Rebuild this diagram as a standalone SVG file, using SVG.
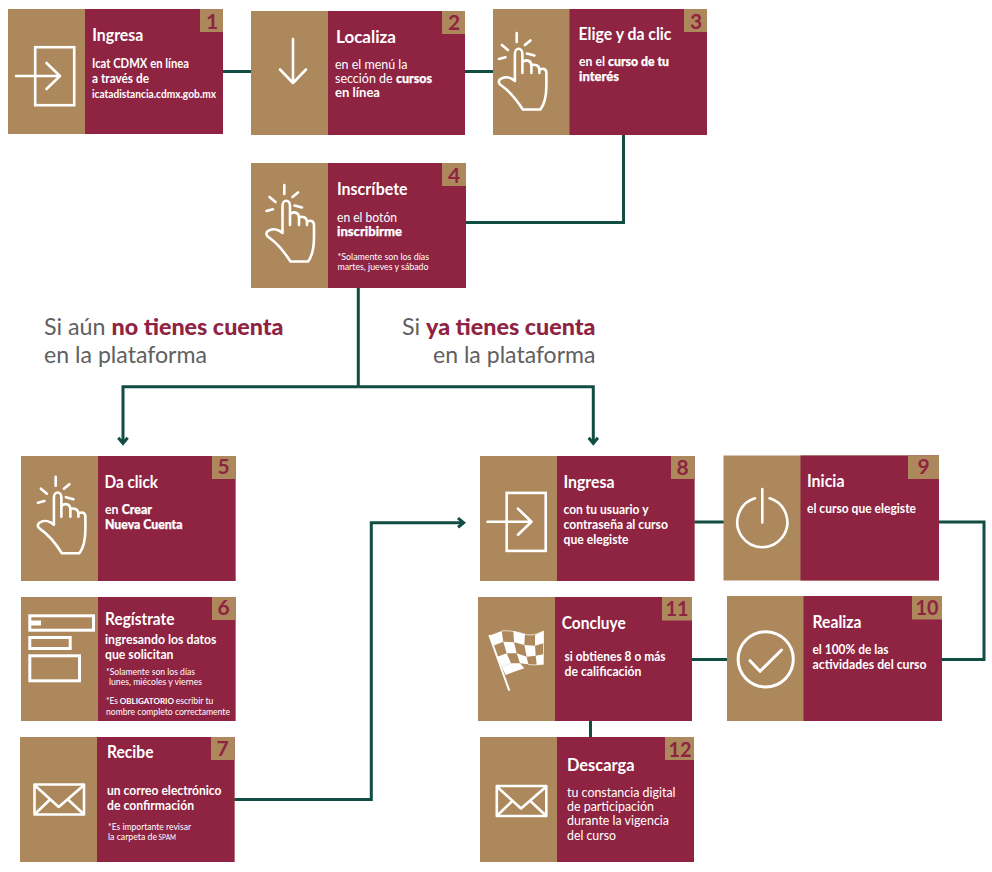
<svg xmlns="http://www.w3.org/2000/svg" xmlns:xlink="http://www.w3.org/1999/xlink" width="992" height="872" viewBox="0 0 992 872">
<style>
text{font-family:Lato,"Noto Sans","Liberation Sans",sans-serif;fill:#fff}
.panel{fill:#8f2342}.tan{fill:#ad885c}
.n{font-size:21px;font-weight:700;fill:#8f2342;text-anchor:middle}
.t{font-size:16.5px;font-weight:700}
.b{font-size:12.5px;font-weight:700}
.r{font-size:12.5px;font-weight:400}
.s{font-size:9px;font-weight:400}
.x{font-size:10.5px;font-weight:700}
.k{font-weight:900;stroke:#fff;stroke-width:.25}
.h{font-size:23px;fill:#606060}
.h .m{fill:#8f2342;font-weight:900}
.i{fill:none;stroke:#fff;stroke-width:2.6;stroke-linecap:round;stroke-linejoin:round}
.m2{stroke-linejoin:miter;stroke-linecap:butt}
.c{fill:none;stroke:#124d44;stroke-width:3}
</style>
<defs>
<marker id="head" markerUnits="userSpaceOnUse" viewBox="-10 -7 14 14" markerWidth="14" markerHeight="14" refX="0" refY="0" orient="auto">
<polygon points="3,0 -4,5.8 -6,3.6 -2,0 -6,-3.6 -4,-5.8" fill="#124d44"/>
</marker>
<g id="enter" class="i">
<rect x="35.2" y="47.2" width="39" height="58" stroke-linecap="butt" stroke-linejoin="miter"/>
<path d="M16 76H60M46.5 63L60 76L46.5 89"/>
</g>
<g id="hand" class="i">
<path d="M29.3 10V19M14.5 22L20.5 27M37.5 22L43 17.5M11.5 36L18 34.3M39.5 30.5L47 32.5"/>
<path d="M35 50V31C35 24 27.5 24 27.5 31V58C24 55 18 52.5 13 56C10.5 58 11 60.5 14 62.5C22 68 30 78 35.5 86.5H53C56.5 82 59 72 59 62V50C59 46 55 44.5 52 47V50M52 47C52 42 47 41 44 42.5V50M44 42.5C44 37 37.5 36 35 39.5"/>
</g>
<g id="mail" class="i">
<rect x="34.5" y="784.5" width="49.5" height="30" stroke-linecap="butt"/>
<path d="M35 785.5L58.7 807L83.5 785.5M35.5 813.5L50 799.5M83 813.5L68 799.5"/>
</g>
</defs>

<g id="connectors">
<path class="c" d="M223 71.5H251"/>
<path class="c" d="M465 71.5H493"/>
<path class="c" d="M623.5 135V222.5H466"/>
<path class="c" d="M358.3 288V386.8"/>
<path class="c" d="M358.3 386.8H123V442.7" marker-end="url(#head)"/>
<path class="c" d="M358.3 386.8H593.3V442.7" marker-end="url(#head)"/>
<path class="c" d="M234 799.5H371.3V522.7H463" marker-end="url(#head)"/>
<path class="c" d="M694 522H724"/>
<path class="c" d="M939 522H984V659.5H942"/>
<path class="c" d="M692 659.5H727"/>
<path class="c" d="M590.5 721V737"/>
</g>

<g id="node-1">
<rect class="tan" x="8" y="9" width="215" height="125"/><rect class="panel" x="85" y="9" width="138" height="125"/><rect class="tan" x="200" y="9" width="23" height="23"/>
<text class="n" x="212" y="29">1</text>
<use href="#enter"/>
<text class="t" x="92.3" y="41" textLength="51" lengthAdjust="spacingAndGlyphs">Ingresa</text>
<text class="b" x="92" y="68" textLength="97" lengthAdjust="spacingAndGlyphs">Icat CDMX en línea</text>
<text class="b" x="92" y="83" textLength="57" lengthAdjust="spacingAndGlyphs">a través de</text>
<text class="x" x="92" y="98" textLength="124" lengthAdjust="spacingAndGlyphs">icatadistancia.cdmx.gob.mx</text>
</g>

<g id="node-2">
<rect class="tan" x="251" y="11" width="214" height="124"/><rect class="panel" x="328" y="11" width="137" height="124"/><rect class="tan" x="442" y="11" width="23" height="23"/>
<text class="n" x="454" y="30">2</text>
<path class="i" d="M293 39V83M280 69.5L293 83L306 69.5"/>
<text class="t" x="336" y="43" textLength="60" lengthAdjust="spacingAndGlyphs">Localiza</text>
<text class="r" x="335" y="69" textLength="72.5" lengthAdjust="spacingAndGlyphs">en el menú la</text>
<text class="r" x="335" y="83" textLength="97" lengthAdjust="spacingAndGlyphs">sección de <tspan class="k">cursos</tspan></text>
<text class="b" x="335" y="97" textLength="45" lengthAdjust="spacingAndGlyphs">en línea</text>
</g>

<g id="node-3">
<rect class="tan" x="493" y="9" width="214" height="126"/><rect class="panel" x="569.5" y="9" width="137.5" height="126"/><rect class="tan" x="684" y="9" width="23" height="23"/>
<text class="n" x="696" y="29">3</text>
<use href="#hand" x="487.4" y="23"/>
<text class="t" x="578.5" y="40" textLength="93" lengthAdjust="spacingAndGlyphs">Elige y da clic</text>
<text class="b" x="579" y="66" textLength="90" lengthAdjust="spacingAndGlyphs">en el <tspan class="k">curso de tu</tspan></text>
<text class="b k" x="579" y="81" textLength="40" lengthAdjust="spacingAndGlyphs">interés</text>
</g>

<g id="node-4">
<rect class="tan" x="251" y="163" width="215" height="125"/><rect class="panel" x="328" y="163" width="138" height="125"/><rect class="tan" x="442" y="163" width="24" height="23"/>
<text class="n" x="454" y="183">4</text>
<use href="#hand" x="255" y="175"/>
<text class="t" x="337" y="195" textLength="70.5" lengthAdjust="spacingAndGlyphs">Inscríbete</text>
<text class="r" x="337" y="222" textLength="60" lengthAdjust="spacingAndGlyphs">en el botón</text>
<text class="b k" x="337" y="236" textLength="65" lengthAdjust="spacingAndGlyphs">inscribirme</text>
<text class="s" x="337.5" y="260" textLength="91.5" lengthAdjust="spacingAndGlyphs">*Solamente son los  días</text>
<text class="s" x="337.5" y="270" textLength="91" lengthAdjust="spacingAndGlyphs">martes,  jueves y sábado</text>
</g>

<g id="branch-labels">
<text class="h" x="44" y="335" textLength="239.5" lengthAdjust="spacingAndGlyphs">Si aún <tspan class="m">no tienes cuenta</tspan></text>
<text class="h" x="44" y="363" textLength="163" lengthAdjust="spacingAndGlyphs">en la plataforma</text>
<text class="h" x="402" y="335" textLength="193.5" lengthAdjust="spacingAndGlyphs">Si <tspan class="m">ya tienes cuenta</tspan></text>
<text class="h" x="433" y="363" textLength="162.5" lengthAdjust="spacingAndGlyphs">en la plataforma</text>
</g>

<g id="node-5">
<rect class="tan" x="21" y="456" width="214.5" height="125"/><rect class="panel" x="98" y="456" width="137.5" height="125"/><rect class="tan" x="212" y="456" width="23.5" height="23"/>
<text class="n" x="223.5" y="474">5</text>
<use href="#hand" x="26.4" y="466.7"/>
<text class="t" x="104.5" y="488" textLength="53.5" lengthAdjust="spacingAndGlyphs">Da click</text>
<text class="b" x="105" y="514" textLength="47" lengthAdjust="spacingAndGlyphs">en <tspan class="k">Crear</tspan></text>
<text class="b k" x="105" y="529" textLength="77.5" lengthAdjust="spacingAndGlyphs">Nueva Cuenta</text>
</g>

<g id="node-6">
<rect class="tan" x="21" y="597" width="214.5" height="124"/><rect class="panel" x="98" y="597" width="137.5" height="124"/><rect class="tan" x="212" y="597" width="23.5" height="23"/>
<text class="n" x="223.5" y="615">6</text>
<g class="i m2" style="stroke-width:3">
<rect x="29.8" y="615.8" width="63.7" height="14.4"/>
<rect x="29.8" y="637.5" width="40.4" height="11"/>
<rect x="29.8" y="655.8" width="49.7" height="25"/>
</g>
<rect x="30" y="620.5" width="11" height="5" fill="#fff"/>
<text class="t" x="105" y="625" textLength="69.5" lengthAdjust="spacingAndGlyphs">Regístrate</text>
<text class="b" x="105" y="644" textLength="111.5" lengthAdjust="spacingAndGlyphs">ingresando los datos</text>
<text class="b" x="105" y="658.5" textLength="68.5" lengthAdjust="spacingAndGlyphs">que solicitan</text>
<text class="s" x="106" y="675" textLength="89" lengthAdjust="spacingAndGlyphs">*Solamente son los días</text>
<text class="s" x="109" y="685" textLength="93" lengthAdjust="spacingAndGlyphs">lunes, miécoles y viernes</text>
<text class="s" x="106" y="704" textLength="12" lengthAdjust="spacingAndGlyphs">*Es</text>
<text class="s" x="119.7" y="704" textLength="54.3" lengthAdjust="spacingAndGlyphs" style="font-weight:700;font-size:8px">OBLIGATORIO</text>
<text class="s" x="175.7" y="704" textLength="37.6" lengthAdjust="spacingAndGlyphs">escribir tu</text>
<text class="s" x="106" y="715" textLength="124" lengthAdjust="spacingAndGlyphs">nombre completo correctamente</text>
</g>

<g id="node-7">
<rect class="tan" x="20" y="737" width="214.5" height="125"/><rect class="panel" x="97" y="737" width="137.5" height="125"/><rect class="tan" x="211" y="737" width="23.5" height="23"/>
<text class="n" x="222.5" y="756">7</text>
<use href="#mail"/>
<text class="t" x="107" y="758" textLength="46.5" lengthAdjust="spacingAndGlyphs">Recibe</text>
<text class="b" x="107" y="795" textLength="114.5" lengthAdjust="spacingAndGlyphs">un correo electrónico</text>
<text class="b" x="107" y="810" textLength="87" lengthAdjust="spacingAndGlyphs">de confirmación</text>
<text class="s" x="108" y="830" textLength="83" lengthAdjust="spacingAndGlyphs">*Es importante revisar</text>
<text class="s" x="108" y="840" textLength="49" lengthAdjust="spacingAndGlyphs">la carpeta de</text>
<text class="s" x="158.6" y="840" textLength="17.4" lengthAdjust="spacingAndGlyphs" style="font-size:7px">SPAM</text>
</g>

<g id="node-8">
<rect class="tan" x="480" y="456" width="214.5" height="125"/><rect class="panel" x="557" y="456" width="137.5" height="125"/><rect class="tan" x="671" y="456" width="23.5" height="23"/>
<text class="n" x="682.5" y="475">8</text>
<use href="#enter" x="471.5" y="445.7"/>
<text class="t" x="563.5" y="488" textLength="51" lengthAdjust="spacingAndGlyphs">Ingresa</text>
<text class="b" x="563.5" y="514" textLength="85" lengthAdjust="spacingAndGlyphs">con tu usuario y</text>
<text class="b" x="563.5" y="529" textLength="104.5" lengthAdjust="spacingAndGlyphs">contraseña al curso</text>
<text class="b" x="563.5" y="544" textLength="65" lengthAdjust="spacingAndGlyphs">que elegiste</text>
</g>

<g id="node-9">
<rect class="tan" x="723.5" y="455.5" width="215.5" height="125"/><rect class="panel" x="800.5" y="455.5" width="138.5" height="125"/><rect class="tan" x="908" y="455.5" width="31" height="23.5"/>
<text class="n" x="923.5" y="474">9</text>
<path class="i" d="M755 498.3A25 25 0 1 0 769.6 498.3M762.3 489V522.5"/>
<text class="t" x="807" y="487" textLength="37.5" lengthAdjust="spacingAndGlyphs">Inicia</text>
<text class="b" x="807" y="513.3" textLength="109" lengthAdjust="spacingAndGlyphs">el curso que elegiste</text>
</g>

<g id="node-10">
<rect class="tan" x="727" y="596" width="215" height="125"/><rect class="panel" x="803.5" y="596" width="138.5" height="125"/><rect class="tan" x="912" y="596" width="30" height="23.5"/>
<text class="n" x="927" y="615" textLength="23" lengthAdjust="spacingAndGlyphs">10</text>
<circle class="i" cx="765.7" cy="659.3" r="27.6" style="stroke-width:3"/>
<path class="i" style="stroke-width:3" d="M750 660.7L760 671.3L781.5 650"/>
<text class="t" x="812.5" y="628" textLength="49" lengthAdjust="spacingAndGlyphs">Realiza</text>
<text class="b" x="812.5" y="654" textLength="76" lengthAdjust="spacingAndGlyphs">el 100% de las</text>
<text class="b" x="812.5" y="669" textLength="114" lengthAdjust="spacingAndGlyphs">actividades del curso</text>
</g>

<g id="node-11">
<rect class="tan" x="478" y="597" width="214" height="124"/><rect class="panel" x="555" y="597" width="137" height="124"/><rect class="tan" x="662" y="597" width="30" height="23.5"/>
<text class="n" x="677" y="616" textLength="23" lengthAdjust="spacingAndGlyphs">11</text>
<path d="M489.3 635L509.3 690.7" stroke="#fff" stroke-width="2" fill="none"/>
<!-- checker cells of the waving flag -->
<g fill="#fff">
<polygon points="489,635.7 501.7,631 503.3,641.7 493.3,645.7"/>
<polygon points="513.3,631 525,634.3 524.3,645 514,642.3"/>
<polygon points="535,635 543.5,631 543.5,643.3 535,645.7"/>
<polygon points="503.3,641.7 514,642.3 516.7,653.3 506.7,653.3"/>
<polygon points="524.3,645 535,645.7 535.7,655.7 526.7,656.7"/>
<polygon points="497.3,656.7 506.7,653.3 511,663.3 501.7,666.7"/>
<polygon points="516.7,653.3 526.7,656.7 528.3,664.3 520,663.3"/>
<polygon points="535.7,655.7 543.3,654.3 543,664.3 536.7,665"/>
<polygon points="511,663.3 520,663.3 524.3,668.3 514.3,671.7 505.7,675 501.7,666.7"/>
</g>
<path d="M501.7 631C508 630 519 632 525 634.3C531 636 538 634 543.5 631V664.3C536 665 531 665 528 664.3" fill="none" stroke="#fff" stroke-width=".7"/>
<text class="t" x="561.7" y="628.7" textLength="64" lengthAdjust="spacingAndGlyphs">Concluye</text>
<text class="b" x="564.5" y="660.7" textLength="101" lengthAdjust="spacingAndGlyphs">si obtienes 8 o más</text>
<text class="b" x="564.5" y="676" textLength="77" lengthAdjust="spacingAndGlyphs">de calificación</text>
</g>

<g id="node-12">
<rect class="tan" x="480" y="737" width="214" height="125"/><rect class="panel" x="557" y="737" width="137" height="125"/><rect class="tan" x="665" y="737" width="29" height="23"/>
<text class="n" x="680" y="757" textLength="23" lengthAdjust="spacingAndGlyphs">12</text>
<use href="#mail" x="462.3" y="1.5"/>
<text class="t" x="567" y="770.7" textLength="67.5" lengthAdjust="spacingAndGlyphs">Descarga</text>
<text class="r" x="567" y="796.7" textLength="108.5" lengthAdjust="spacingAndGlyphs">tu constancia digital</text>
<text class="r" x="567" y="811" textLength="87" lengthAdjust="spacingAndGlyphs">de participación</text>
<text class="r" x="567" y="825" textLength="102" lengthAdjust="spacingAndGlyphs">durante la vigencia</text>
<text class="r" x="567" y="839.7" textLength="49" lengthAdjust="spacingAndGlyphs">del curso</text>
</g>
</svg>
